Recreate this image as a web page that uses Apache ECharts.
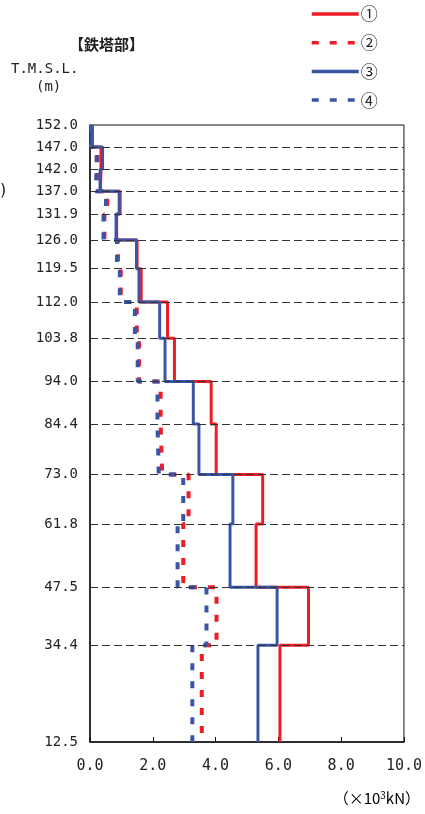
<!DOCTYPE html>
<html><head><meta charset="utf-8">
<script src="https://cdn.jsdelivr.net/npm/echarts@6/dist/echarts.min.js"></script>
<style>html,body{margin:0;padding:0;background:#fff}#c{width:425px;height:814px}</style>
</head><body><div id="c"></div>
<script>
const levels = [152.0,147.0,142.0,137.0,131.9,126.0,119.5,112.0,103.8,94.0,84.4,73.0,61.8,47.5,34.4,12.5];
const seriesNames = ['①','②','③','④'];
const s1 = [0.08,0.35,0.33,0.96,0.85,1.50,1.63,2.47,2.69,3.86,4.02,5.50,5.29,6.96,6.05];
const s2 = [0.05,0.24,0.22,0.55,0.46,0.89,0.98,1.49,1.56,2.25,2.30,3.14,2.97,4.03,3.56];
const s3 = [0.05,0.40,0.32,0.93,0.83,1.48,1.56,2.22,2.39,3.29,3.47,4.55,4.46,5.96,5.35];
const s4 = [0.03,0.21,0.18,0.51,0.43,0.86,0.95,1.43,1.52,2.15,2.19,2.97,2.79,3.71,3.26];

function steps(vals){
  const out=[];
  for(let i=0;i<vals.length;i++){ out.push([vals[i],levels[i]]); out.push([vals[i],levels[i+1]]); }
  return out;
}
const RED='#ee1d25', BLUE='#3a55a5';
const mono='DejaVu Sans Mono';
const chart=echarts.init(document.getElementById('c'),null,{renderer:'canvas'});
chart.setOption({
  animation:false,
  grid:{left:90,right:20,top:125,bottom:72,show:true,borderColor:'#111',borderWidth:1},
  xAxis:{type:'value',min:0,max:10,interval:2,
    axisLine:{show:true,lineStyle:{color:'#111',width:1.5}},
    axisTick:{show:true,inside:true,length:5,lineStyle:{color:'#111'}},
    splitLine:{show:false},
    axisLabel:{margin:17,color:'#222',fontFamily:mono,fontSize:15,formatter:v=>v.toFixed(1)}},
  yAxis:{type:'value',min:12.5,max:152,
    axisLine:{show:true,lineStyle:{color:'#111',width:1.5}},
    axisTick:{show:false},
    splitLine:{show:false},
    axisLabel:{margin:12,color:'#222',fontFamily:mono,fontSize:14,customValues:levels,formatter:v=>v.toFixed(1)}},
  legend:{data:seriesNames,orient:'vertical',left:310,top:5.5,padding:0,itemWidth:47,itemHeight:14,itemGap:11.7,
    itemStyle:{opacity:0},
    lineStyle:{width:3.5},
    textStyle:{fontFamily:'Noto Sans CJK JP',fontSize:17,color:'#222',padding:[0,0,0,-3]}},
  graphic:[
    {type:'text',left:69,top:37,style:{text:'【鉄塔部】',font:'bold 15px "Noto Sans CJK JP"',fill:'#222'}},
    {type:'text',left:11,top:62,style:{text:'T.M.S.L.',font:'14px "DejaVu Sans Mono"',fill:'#222'}},
    {type:'text',left:36,top:80,style:{text:'(m)',font:'14px "DejaVu Sans Mono"',fill:'#222'}},
    {type:'text',left:0,top:183,style:{text:')',font:'16px "DejaVu Sans"',fill:'#222'}},
    {type:'text',right:5,top:790,style:{text:'{a|（×10}{s|3}{a|kN）}',
      rich:{a:{fontFamily:'Noto Sans CJK JP',fontSize:15,color:'#222',lineHeight:18},
            s:{fontFamily:'Noto Sans CJK JP',fontSize:10,color:'#222',lineHeight:18,padding:[0,0,7,0]}}}}
  ],
  series:[
    {type:'line',name:'grid',data:[],z:1,silent:true,
      markLine:{silent:true,symbol:['none','none'],label:{show:false},animation:false,
        lineStyle:{type:[8,4],color:'#333',width:1},
        data:levels.slice(1,-1).map(v=>({yAxis:v}))}},
    {type:'line',name:'①',data:steps(s1),symbol:'none',z:3,lineStyle:{color:RED,width:3},itemStyle:{color:RED}},
    {type:'line',name:'②',data:steps(s2),symbol:'none',z:3,lineStyle:{color:RED,width:4,type:[7,11]},itemStyle:{color:RED}},
    {type:'line',name:'③',data:steps(s3),symbol:'none',z:3,lineStyle:{color:BLUE,width:3},itemStyle:{color:BLUE}},
    {type:'line',name:'④',data:steps(s4),symbol:'none',z:3,lineStyle:{color:BLUE,width:4,type:[7,11]},itemStyle:{color:BLUE}}
  ]
});
</script></body></html>
